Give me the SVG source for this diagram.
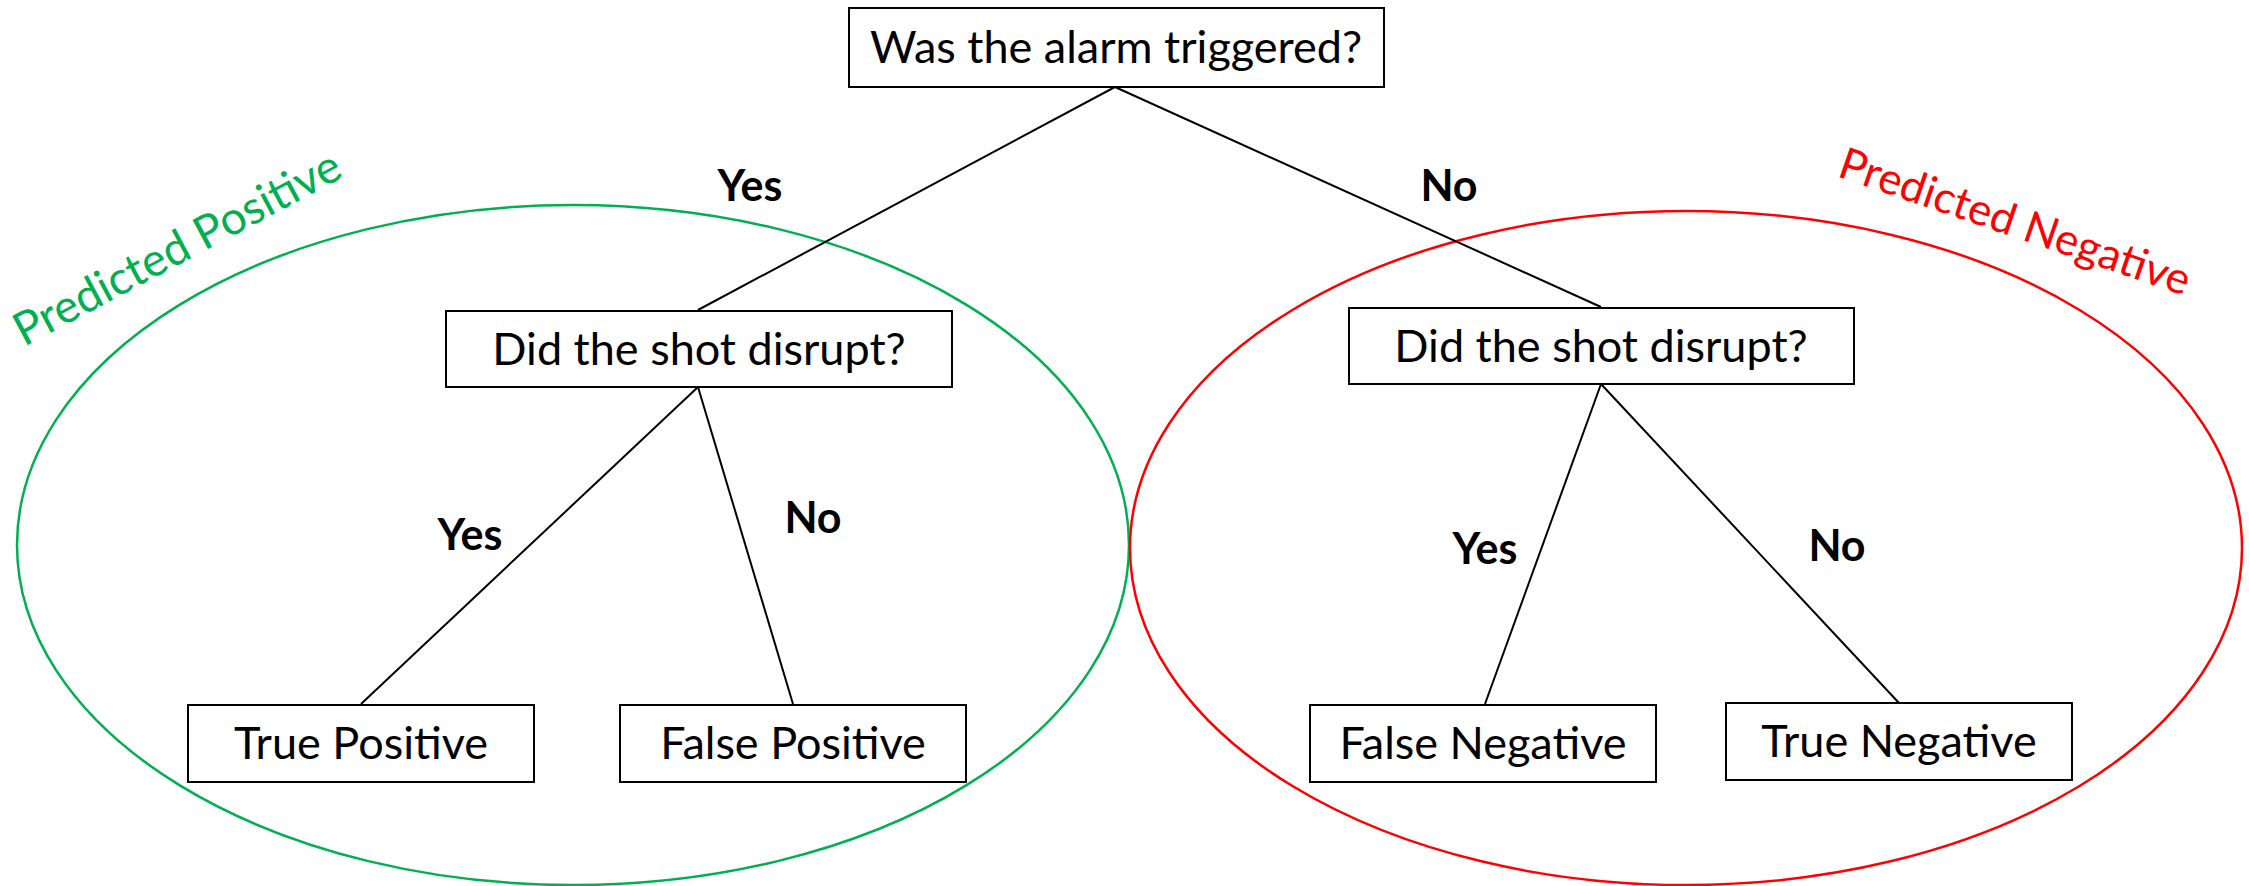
<svg xmlns="http://www.w3.org/2000/svg" width="2249" height="886" viewBox="0 0 2249 886">
<style>
.box{fill:#fff;stroke:#000;stroke-width:2}
.t{font-family:Lato,"Open Sans","Liberation Sans",sans-serif;font-size:45px;fill:#000;text-anchor:middle}
.lbl{font-family:Lato,"Open Sans","Liberation Sans",sans-serif;font-size:43px;font-weight:bold;fill:#000;text-anchor:middle}
.edge{stroke:#000;stroke-width:2;fill:none}
.pp{font-family:Lato,"Open Sans","Liberation Sans",sans-serif;font-size:46px;fill:#00B050}
.pn{font-family:Lato,"Open Sans","Liberation Sans",sans-serif;font-size:44px;fill:#FF0000}
</style>
<rect width="2249" height="886" fill="#fff"/>
<g id="regions">
<ellipse cx="573" cy="545" rx="556" ry="340" fill="none" stroke="#00B050" stroke-width="2.5"/>
<ellipse cx="1686" cy="548" rx="556" ry="337" fill="none" stroke="#FF0000" stroke-width="2.5"/>
<text class="pp" transform="translate(24,347) rotate(-28)">Predicted Positive</text>
<text class="pn" transform="translate(1836,176) rotate(19)">Predicted Negative</text>
</g>
<g id="connectors">
<line class="edge" x1="1115" y1="87" x2="698" y2="310"/>
<line class="edge" x1="1115" y1="87" x2="1601" y2="307"/>
<line class="edge" x1="698" y1="387" x2="361" y2="704"/>
<line class="edge" x1="698" y1="387" x2="793" y2="704"/>
<line class="edge" x1="1601" y1="384" x2="1485" y2="704"/>
<line class="edge" x1="1601" y1="384" x2="1899" y2="703"/>
<text class="lbl" x="750" y="201">Yes</text>
<text class="lbl" x="1449" y="201">No</text>
<text class="lbl" x="470" y="550">Yes</text>
<text class="lbl" x="813" y="533">No</text>
<text class="lbl" x="1485" y="564">Yes</text>
<text class="lbl" x="1837" y="561">No</text>
</g>
<g id="root">
<rect class="box" x="849" y="8" width="535" height="79"/>
<text class="t" x="1116" y="63">Was the alarm triggered?</text>
</g>
<g id="left-q">
<rect class="box" x="446" y="311" width="506" height="76"/>
<text class="t" x="699" y="365">Did the shot disrupt?</text>
</g>
<g id="right-q">
<rect class="box" x="1349" y="308" width="505" height="76"/>
<text class="t" x="1601" y="362">Did the shot disrupt?</text>
</g>
<g id="tp">
<rect class="box" x="188" y="705" width="346" height="77"/>
<text class="t" x="361" y="759">True Positive</text>
</g>
<g id="fp">
<rect class="box" x="620" y="705" width="346" height="77"/>
<text class="t" x="793" y="759">False Positive</text>
</g>
<g id="fn">
<rect class="box" x="1310" y="705" width="346" height="77"/>
<text class="t" x="1483" y="759">False Negative</text>
</g>
<g id="tn">
<rect class="box" x="1726" y="703" width="346" height="77"/>
<text class="t" x="1899" y="757">True Negative</text>
</g>
</svg>
